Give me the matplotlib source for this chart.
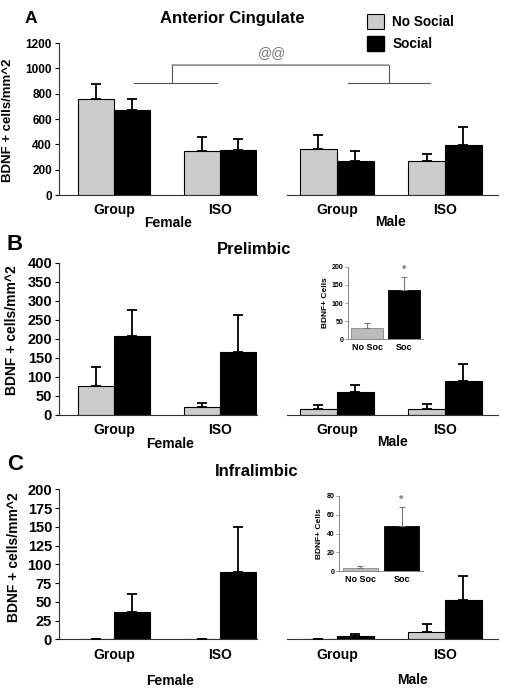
import matplotlib.pyplot as plt
from matplotlib.patches import Patch, ConnectionPatch
import numpy as np

plt.rcParams['font.family'] = ['Liberation Sans', 'DejaVu Sans']
plt.rcParams['font.weight'] = 'bold'
plt.rcParams['axes.labelweight'] = 'bold'

housing = ['Group', 'ISO']
inset_labels = ['No Soc', 'Soc']

# A - Anterior Cingulate (mean, SEM), order: Group, ISO
acc_f_nosoc = [760, 350]
acc_f_nosoc_err = [120, 105]
acc_f_soc = [670, 355]
acc_f_soc_err = [90, 90]
acc_m_nosoc = [365, 265]
acc_m_nosoc_err = [105, 60]
acc_m_soc = [265, 395]
acc_m_soc_err = [85, 140]

# B - Prelimbic
pl_f_nosoc = [77, 22]
pl_f_nosoc_err = [48, 10]
pl_f_soc = [207, 165]
pl_f_soc_err = [68, 97]
pl_m_nosoc = [17, 16]
pl_m_nosoc_err = [8, 14]
pl_m_soc = [60, 90]
pl_m_soc_err = [20, 45]
pl_inset = [32, 136]
pl_inset_err = [12, 35]

# C - Infralimbic
il_f_nosoc = [0, 0]
il_f_nosoc_err = [0, 0]
il_f_soc = [37, 90]
il_f_soc_err = [23, 60]
il_m_nosoc = [0, 10]
il_m_nosoc_err = [0, 10]
il_m_soc = [4, 52]
il_m_soc_err = [3, 33]
il_inset = [3, 48]
il_inset_err = [2, 20]

GRAY = '#cccccc'
LINE = '#333333'
W = 0.34

fig = plt.figure(figsize=(5.08, 6.95), dpi=100)


def bars(ax, nosoc, nosoc_err, soc, soc_err):
    x = np.arange(len(housing))
    ax.bar(x - W / 2, nosoc, W, color=GRAY, edgecolor='black', linewidth=0.8, zorder=2)
    ax.bar(x + W / 2, soc, W, color='black', edgecolor='black', linewidth=0.8, zorder=2)
    for xs, m, e in [(x - W / 2, nosoc, nosoc_err), (x + W / 2, soc, soc_err)]:
        ax.errorbar(xs, m, yerr=[np.zeros(len(m)), e], fmt='none', ecolor='black',
                    elinewidth=1.3, capsize=3.5, capthick=1.3, zorder=3)
    ax.set_xticks(x)
    ax.set_xticklabels(housing, fontsize=10, fontweight='bold')
    ax.tick_params(axis='x', length=0, pad=6)
    for s in ['top', 'right']:
        ax.spines[s].set_visible(False)
    ax.spines['bottom'].set_color(LINE)
    ax.spines['left'].set_color(LINE)


def panel(bottom, height, f, m, ymax, ystep, tick_fs, label_xy):
    axf = fig.add_axes([59 / 508, bottom, 198 / 508, height])
    axm = fig.add_axes([287 / 508, bottom, 211 / 508, height])
    bars(axf, *f)
    bars(axm, *m)
    axf.set_xlim(-0.52, 1.35)
    axm.set_xlim(-0.46, 1.49)
    for ax in (axf, axm):
        ax.set_ylim(0, ymax)
    axf.set_yticks(np.arange(0, ymax + 1, ystep))
    axf.tick_params(axis='y', length=3, width=0.8, labelsize=tick_fs, pad=2)
    for t in axf.get_yticklabels():
        t.set_fontweight('bold')
    axf.set_ylabel('BDNF + cells/mm^2', fontsize=10, fontweight='bold')
    axf.yaxis.set_label_coords(*label_xy)
    axm.spines['left'].set_visible(False)
    axm.set_yticks([])
    return axf, axm


def inset(rect, vals, errs, ymax, ystep):
    ax = fig.add_axes(rect)
    x = np.arange(2)
    ax.bar(x, vals, 0.85, color=['#bbbbbb', 'black'], edgecolor=['#888888', 'black'],
           linewidth=0.6)
    ax.errorbar(x, vals, yerr=[np.zeros(2), errs], fmt='none', ecolor='#777777',
                elinewidth=0.8, capsize=2.5, capthick=0.8)
    ax.annotate('*', (1, vals[1] + errs[1]), xytext=(0, 2), textcoords='offset points',
                ha='center', va='bottom', fontsize=8, color='#777777')
    ax.set_ylim(0, ymax)
    ax.set_yticks(np.arange(0, ymax + 1, ystep))
    ax.set_xticks(x)
    ax.set_xticklabels(inset_labels, fontsize=6.5, fontweight='bold')
    ax.tick_params(axis='x', length=0, pad=3)
    ax.tick_params(axis='y', length=2, width=0.6, labelsize=5, pad=1.5, color='#888888')
    for s in ['top', 'right']:
        ax.spines[s].set_visible(False)
    for s in ['left', 'bottom']:
        ax.spines[s].set_color('#888888')
        ax.spines[s].set_linewidth(0.7)
    ax.set_ylabel('BDNF+ Cells', fontsize=6, fontweight='bold', labelpad=2)
    return ax


# Panel A
axAf, axAm = panel(1 - 195 / 695, 152 / 695,
                   (acc_f_nosoc, acc_f_nosoc_err, acc_f_soc, acc_f_soc_err),
                   (acc_m_nosoc, acc_m_nosoc_err, acc_m_soc, acc_m_soc_err),
                   1200, 200, 8.5, (-0.225, 0.49))
axAf.yaxis.label.set_fontsize(9.5)

# significance bracket
bk = dict(color='#555555', linewidth=0.8, clip_on=False)
axAf.plot([0.19, 0.97], [882, 882], **bk)
axAf.plot([0.55, 0.55], [882, 1026], **bk)
axAm.plot([0.10, 0.86], [882, 882], **bk)
axAm.plot([0.48, 0.48], [882, 1026], **bk)
fig.add_artist(ConnectionPatch(xyA=(0.55, 1026), coordsA=axAf.transData,
                               xyB=(0.48, 1026), coordsB=axAm.transData,
                               color='#555555', linewidth=0.8))
axAf.text(1.49, 1120, '@@', ha='center', va='center', fontsize=10,
          color='#777777', fontweight='normal')

# Panel B
axBf, axBm = panel(1 - 415 / 695, 152 / 695,
                   (pl_f_nosoc, pl_f_nosoc_err, pl_f_soc, pl_f_soc_err),
                   (pl_m_nosoc, pl_m_nosoc_err, pl_m_soc, pl_m_soc_err),
                   400, 50, 10.5, (-0.203, 0.56))
inset([348 / 508, 1 - 339.3 / 695, 75 / 508, 72.6 / 695], pl_inset, pl_inset_err, 200, 50)

# Panel C
axCf, axCm = panel(1 - 639.3 / 695, 150 / 695,
                   (il_f_nosoc, il_f_nosoc_err, il_f_soc, il_f_soc_err),
                   (il_m_nosoc, il_m_nosoc_err, il_m_soc, il_m_soc_err),
                   200, 25, 10.5, (-0.193, 0.55))
inset([339 / 508, 1 - 571 / 695, 84 / 508, 75 / 695], il_inset, il_inset_err, 80, 20)

# titles, panel letters, sex labels
for x, y, s in [(232, 18, 'Anterior Cingulate'), (254, 249, 'Prelimbic'), (257, 472, 'Infralimbic')]:
    fig.text(x / 508, 1 - y / 695, s, ha='center', va='center', fontsize=12, fontweight='bold')
for x, y, s, fs in [(25, 18.5, 'A', 12.5), (7, 244, 'B', 16), (7, 465, 'C', 16)]:
    fig.text(x / 508, 1 - y / 695, s, ha='left', va='center', fontsize=fs, fontweight='bold')
for x, y, s in [(168, 223, 'Female'), (390, 222, 'Male'), (170, 444, 'Female'), (392, 442, 'Male'),
                (170, 681, 'Female'), (413, 680, 'Male')]:
    fig.text(x / 508, 1 - y / 695, s, ha='center', va='center', fontsize=10, fontweight='bold')

handles = [Patch(facecolor=GRAY, edgecolor='black', linewidth=0.8),
           Patch(facecolor='black', edgecolor='black')]
fig.legend(handles, ['No Social', 'Social'], loc='upper left', bbox_to_anchor=(367 / 508, 1 - 14 / 695),
           frameon=False, fontsize=9.8, handlelength=1.25, handleheight=1.3, labelspacing=0.5,
           handletextpad=0.6, borderpad=0, borderaxespad=0)

fig.savefig('out.png', dpi=100)
